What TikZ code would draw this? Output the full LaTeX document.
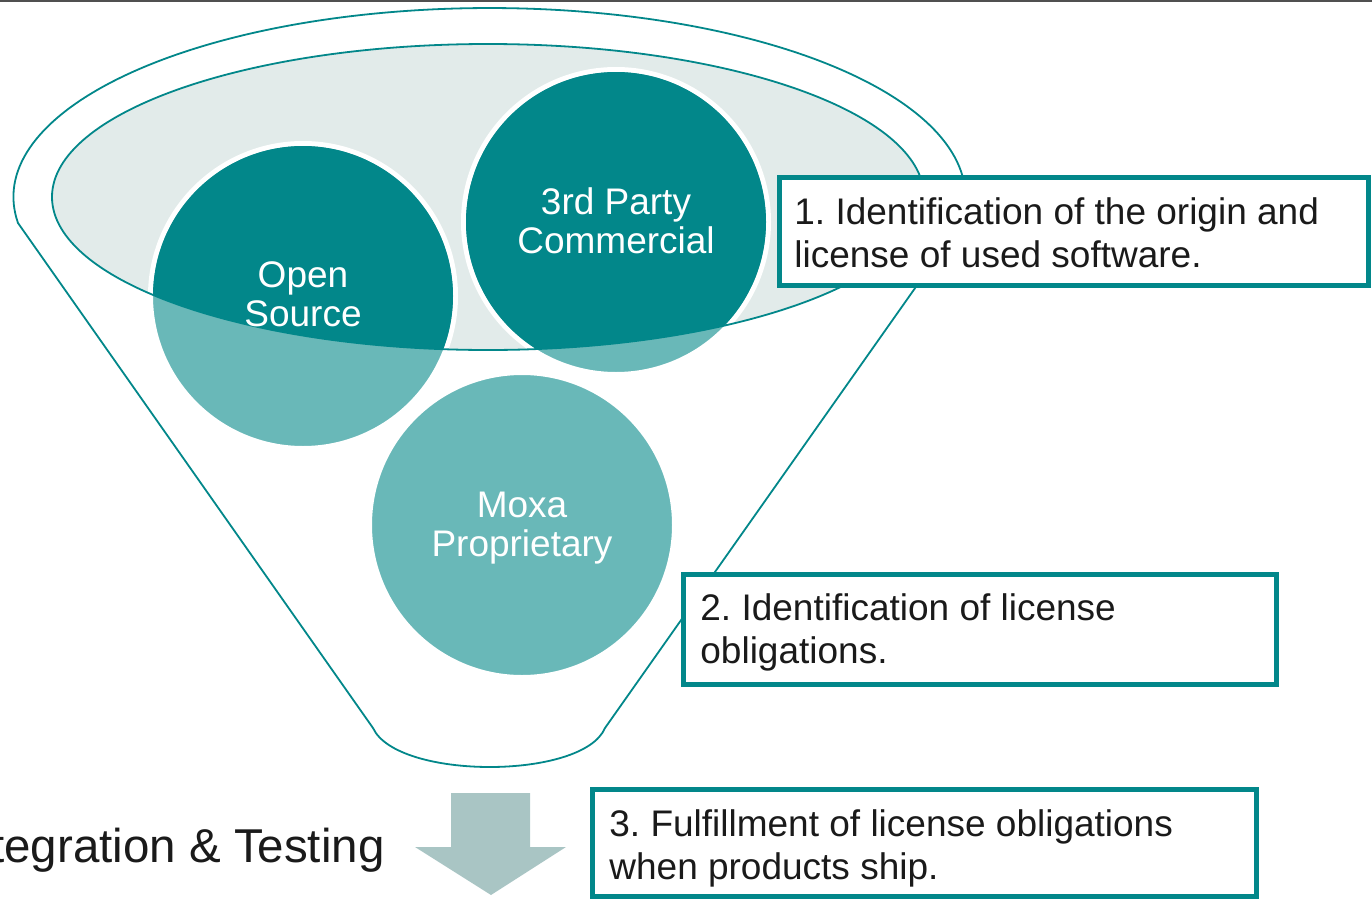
\documentclass[tikz,border=0pt]{standalone}
\usepackage{fontspec}
\setmainfont{Liberation Sans}
\frenchspacing
\definecolor{tealdark}{HTML}{02878A}
\definecolor{teallight}{HTML}{69B8B8}
\definecolor{ellfill}{HTML}{E2EBEA}
\definecolor{arrowc}{HTML}{A9C5C4}
\definecolor{txt}{HTML}{1A1A1A}
\definecolor{topline}{HTML}{505050}
\newcommand\boxlines[2]{\vtop{\hbox{#1}\hbox{#2}}}
\newcommand\circlines[2]{\vtop{\hbox to 0pt{\hss #1\hss}\hbox to 0pt{\hss #2\hss}}}
\begin{document}
\begin{tikzpicture}[x=0.5pt,y=-0.5pt,
  outline/.style={draw=tealdark, line width=0.9pt},
  disc/.style={fill=teallight, draw=white, line width=2.5pt},
  circtext/.style={text=white, font=\fontsize{18.5pt}{19.5pt}\selectfont, inner sep=0pt, anchor=base},
  infobox/.style={draw=tealdark, line width=2.5pt, fill=white, inner sep=0pt, rectangle},
  boxtext/.style={text=txt, font=\fontsize{18.5pt}{21.75pt}\selectfont, inner sep=0pt, anchor=base west},
  bigtext/.style={text=txt, font=\fontsize{23.75pt}{28pt}\selectfont, inner sep=0pt, anchor=base east}]
\useasboundingbox (0,0) rectangle (1372,900);
% top rule
\coordinate (tl) at (0,0.8);
\coordinate (tr) at (1372,0.8);
\draw[topline, line width=0.8pt] (tl) -- (tr);
% funnel outline
\coordinate (fl) at (18,223);
\coordinate (fr) at (961,223);
\coordinate (br) at (605,728);
\coordinate (bl) at (373,728);
\draw[outline] (fl) arc[start angle=187.9, end angle=-7.9, x radius=238pt, y radius=94.5pt]
  -- (br) .. controls (583,780) and (397,780) .. (bl) -- cycle;
% inner ellipse
\coordinate (ec) at (488,197);
\fill[ellfill] (ec) ellipse[x radius=218pt, y radius=76.5pt];
% circles
\coordinate (os) at (303,296);
\coordinate (tp) at (616,222);
\coordinate (mp) at (522,525);
\path[disc] (os) circle[radius=76.25pt];
\path[disc] (tp) circle[radius=76.25pt];
\path[disc] (mp) circle[radius=76.25pt];
\begin{scope}
  \clip (ec) ellipse[x radius=218pt, y radius=76.5pt];
  \fill[tealdark] (os) circle[radius=75pt];
  \fill[tealdark] (tp) circle[radius=75pt];
\end{scope}
\draw[outline] (ec) ellipse[x radius=218pt, y radius=76.5pt];
% circle labels
\node[circtext] (oslabel) at (303,287) {\circlines{Open}{Source}};
\node[circtext] (tplabel) at (616,214) {\circlines{3rd Party}{Commercial}};
\node[circtext] (mplabel) at (522,517) {\circlines{Moxa}{Proprietary}};
% arrow
\fill[arrowc] (451,793) -- (530,793) -- (530,847) -- (566,847) -- (491,895) -- (415,847) -- (451,847) -- cycle;
\node[bigtext] (integ) at (385,862) {Integration \& Testing};
% boxes
\node[infobox, minimum width=294.5pt, minimum height=54pt] (box1) at (1074,231.5) {};
\node[infobox, minimum width=296.5pt, minimum height=55pt] (box2) at (980,629.5) {};
\node[infobox, minimum width=332pt, minimum height=53.5pt] (box3) at (924.5,843) {};
\node[boxtext] (t1) at (794,224) {\boxlines{1. Identification of the origin and}{license of used software.}};
\node[boxtext] (t2) at (700,620) {\boxlines{2. Identification of license}{obligations.}};
\node[boxtext] (t3) at (609,836) {\boxlines{3. Fulfillment of license obligations}{when products ship.}};
\end{tikzpicture}
\end{document}
